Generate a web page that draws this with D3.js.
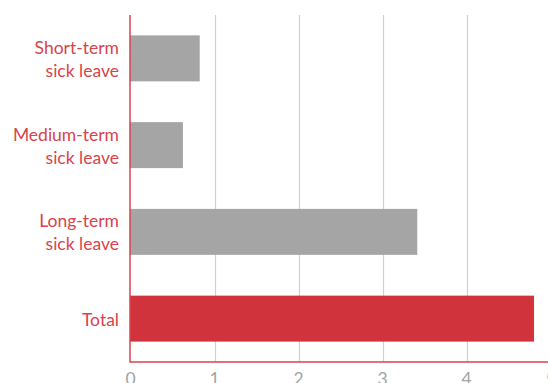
<!DOCTYPE html>
<html>
<head>
<meta charset="utf-8">
<script src="https://cdn.jsdelivr.net/npm/d3@7"></script>
<style>
  html, body { margin: 0; padding: 0; background: #fff; }
  svg { display: block; }
</style>
</head>
<body>
<svg id="chart" width="548" height="383"></svg>
<script>
const categories = [["Short-term", "sick leave"], ["Medium-term", "sick leave"], ["Long-term", "sick leave"], ["Total"]];
const values = [0.83, 0.63, 3.42, 4.81];
const tickValues = [0, 1, 2, 3, 4, 5];

const svg = d3.select("#chart");
const mLeft = 130, mRight = 550, mTop = 15, mBottom = 362;
const keys = categories.map(c => c.join(" "));
const x = d3.scaleLinear().domain([0, 5]).range([mLeft, mRight]);
const y = d3.scaleBand().domain(keys).range([mTop, mBottom]).paddingInner(0.47).paddingOuter(0.235);

// gridlines
svg.append("g").selectAll("line").data(tickValues.filter(d => d > 0)).join("line")
  .attr("x1", d => x(d) + 1.5).attr("x2", d => x(d) + 1.5)
  .attr("y1", mTop).attr("y2", mBottom)
  .attr("stroke", "#d0d0d0").attr("stroke-width", 1.2);

// bars
svg.append("g").selectAll("rect").data(values).join("rect")
  .attr("x", x(0))
  .attr("y", (d, i) => y(keys[i]))
  .attr("width", d => x(d) - x(0))
  .attr("height", y.bandwidth())
  .attr("fill", (d, i) => i === 3 ? "#d0333c" : "#a5a5a5");

// axes lines
svg.append("line").attr("x1", x(0)).attr("x2", x(0)).attr("y1", mTop).attr("y2", mBottom + 0.5)
  .attr("stroke", "#d9434c").attr("stroke-width", 1.5);
svg.append("line").attr("x1", x(0)).attr("x2", 548).attr("y1", mBottom).attr("y2", mBottom)
  .attr("stroke", "#d9434c").attr("stroke-width", 1.5);

// x tick labels
const xAxis = d3.axisBottom(x).tickValues(tickValues).tickSize(0).tickPadding(0).tickFormat(d3.format("d"));
const gx = svg.append("g").attr("transform", `translate(0,${mBottom})`).call(xAxis);
gx.select(".domain").remove();
gx.selectAll("text").attr("dy", null).attr("y", 22.5)
  .attr("font-family", "Lato, sans-serif").attr("font-size", 17.5).attr("fill", "#a3a3a3");

// y labels
const gy = svg.append("g");
categories.forEach((lines, i) => {
  const cy = y(keys[i]) + y.bandwidth() / 2;
  const lh = 23;
  const t = gy.append("text").attr("text-anchor", "end")
    .attr("font-family", "Lato, sans-serif").attr("font-size", 17.5).attr("fill", "#d9434c");
  lines.forEach((ln, j) => {
    t.append("tspan").attr("x", 119)
      .attr("y", cy + (j - (lines.length - 1) / 2) * lh + 7)
      .text(ln);
  });
});
</script>
</body>
</html>
